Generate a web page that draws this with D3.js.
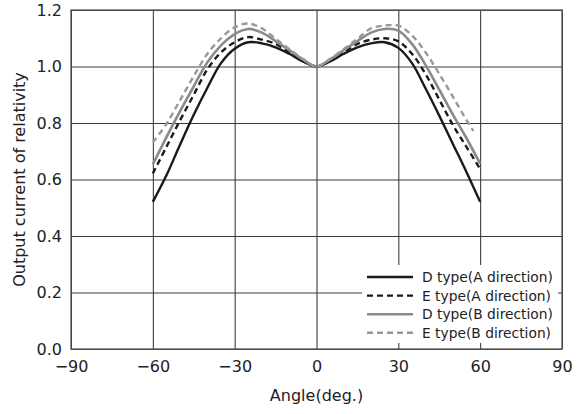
<!DOCTYPE html>
<html>
<head>
<meta charset="utf-8">
<script src="https://cdn.jsdelivr.net/npm/d3@7"></script>
<style>
  body { margin: 0; background: #fff; }
  svg { display: block; font-family: "DejaVu Sans", sans-serif; }
</style>
</head>
<body>
<div id="chart"></div>
<script>
// Data (relative output vs. angle)
const angles = [-60, -55, -50, -45, -40, -35, -30, -25, -20, -15, -10, -5, 0,
                5, 10, 15, 20, 25, 30, 35, 40, 45, 50, 55, 60];
const dTypeA = [0.521, 0.615, 0.724, 0.829, 0.925, 1.012, 1.063, 1.086, 1.082, 1.068, 1.045, 1.018, 1.000,
                1.018, 1.045, 1.068, 1.082, 1.086, 1.066, 1.012, 0.922, 0.826, 0.726, 0.626, 0.521];
const eTypeA = [0.621, 0.716, 0.810, 0.900, 0.990, 1.050, 1.086, 1.104, 1.095, 1.080, 1.050, 1.020, 1.000,
                1.020, 1.050, 1.080, 1.095, 1.100, 1.089, 1.045, 0.973, 0.883, 0.793, 0.715, 0.637];
const dTypeB = [0.653, 0.750, 0.842, 0.930, 1.015, 1.075, 1.115, 1.133, 1.120, 1.090, 1.058, 1.025, 1.000,
                1.025, 1.058, 1.090, 1.120, 1.133, 1.127, 1.080, 1.005, 0.918, 0.830, 0.746, 0.656];
const anglesEB = [-60, -55, -50, -45, -40, -35, -30, -25, -20, -15, -10, -5, 0,
                  5, 10, 15, 20, 25, 30, 35, 40, 45, 50, 55, 57.5];
const eTypeB = [0.731, 0.797, 0.881, 0.966, 1.045, 1.100, 1.139, 1.152, 1.135, 1.098, 1.062, 1.027, 1.000,
                1.027, 1.062, 1.098, 1.135, 1.145, 1.145, 1.110, 1.050, 0.974, 0.893, 0.810, 0.772];

const xTicks = [-90, -60, -30, 0, 30, 60, 90];
const yTicks = [0, 0.2, 0.4, 0.6, 0.8, 1.0, 1.2];

const seriesNames = ['D type(A direction)', 'E type(A direction)', 'D type(B direction)', 'E type(B direction)'];

// ============================================
// Layout
// ============================================
const W = 582, H = 414;
const margin = { top: 10, right: 20, bottom: 65, left: 71 };
const innerW = W - margin.left - margin.right;
const innerH = H - margin.top - margin.bottom;

const series = [
  { name: seriesNames[0], xs: angles, ys: dTypeA, color: '#1a1a1a', dash: null, width: 2.4 },
  { name: seriesNames[1], xs: angles, ys: eTypeA, color: '#1a1a1a', dash: '6,4', width: 2.4 },
  { name: seriesNames[2], xs: angles, ys: dTypeB, color: '#8a8a8a', dash: null, width: 2.6 },
  { name: seriesNames[3], xs: anglesEB, ys: eTypeB, color: '#999999', dash: '6,4', width: 2.4 }
];

const x = d3.scaleLinear().domain([-90, 90]).range([0, innerW]);
const y = d3.scaleLinear().domain([0, 1.2]).range([innerH, 0]);

const svg = d3.select('#chart').append('svg')
  .attr('width', W)
  .attr('height', H);

const g = svg.append('g')
  .attr('transform', `translate(${margin.left},${margin.top})`);

// Grid lines
g.append('g')
  .attr('class', 'grid-x')
  .attr('transform', `translate(0,${innerH})`)
  .call(d3.axisBottom(x).tickValues(xTicks).tickSize(-innerH).tickFormat(''))
  .call(s => s.select('.domain').remove())
  .selectAll('line')
  .attr('stroke', '#2a2a2a')
  .attr('stroke-width', 1);

g.append('g')
  .attr('class', 'grid-y')
  .call(d3.axisLeft(y).tickValues(yTicks).tickSize(-innerW).tickFormat(''))
  .call(s => s.select('.domain').remove())
  .selectAll('line')
  .attr('stroke', '#3a3a3a')
  .attr('stroke-width', 1);

// Curves
const line = d3.line()
  .x(d => x(d[0]))
  .y(d => y(d[1]))
  .curve(d3.curveCatmullRom.alpha(0.5));

series.forEach(s => {
  g.append('path')
    .datum(s.xs.map((a, i) => [a, s.ys[i]]))
    .attr('fill', 'none')
    .attr('stroke', s.color)
    .attr('stroke-width', s.width)
    .attr('stroke-dasharray', s.dash)
    .attr('stroke-linejoin', 'round')
    .attr('d', line);
});

// Frame
g.append('rect')
  .attr('width', innerW)
  .attr('height', innerH)
  .attr('fill', 'none')
  .attr('stroke', '#555')
  .attr('stroke-width', 1.3);

// Axes labels
const xAxis = g.append('g')
  .attr('transform', `translate(0,${innerH})`)
  .call(d3.axisBottom(x).tickValues(xTicks).tickSize(0).tickPadding(12));
xAxis.select('.domain').remove();
xAxis.selectAll('text')
  .attr('fill', '#222')
  .style('font-size', '16px')
  .style('font-family', '"DejaVu Sans", sans-serif');

const yAxis = g.append('g')
  .call(d3.axisLeft(y).tickValues(yTicks).tickSize(0).tickPadding(9).tickFormat(d3.format('.1f')));
yAxis.select('.domain').remove();
yAxis.selectAll('text')
  .attr('fill', '#222')
  .style('font-size', '16px')
  .style('font-family', '"DejaVu Sans", sans-serif');

svg.append('text')
  .attr('x', margin.left + innerW / 2)
  .attr('y', 401)
  .attr('text-anchor', 'middle')
  .attr('fill', '#222')
  .style('font-size', '16px')
  .text('Angle(deg.)');

svg.append('text')
  .attr('transform', `translate(25,${margin.top + innerH / 2}) rotate(-90)`)
  .attr('text-anchor', 'middle')
  .attr('fill', '#222')
  .style('font-size', '16px')
  .text('Output current of relativity');

// Legend
const legend = svg.append('g')
  .attr('transform', 'translate(362,265)');

legend.append('rect')
  .attr('width', 196)
  .attr('height', 78)
  .attr('fill', '#fff');

series.forEach((s, i) => {
  const row = legend.append('g')
    .attr('transform', `translate(0,${12 + i * 18.6})`);
  row.append('line')
    .attr('x1', 5).attr('x2', 51)
    .attr('stroke', s.color)
    .attr('stroke-width', s.width)
    .attr('stroke-dasharray', s.dash);
  row.append('text')
    .attr('x', 60)
    .attr('dy', '0.36em')
    .attr('fill', '#222')
    .style('font-size', '13.8px')
    .text(s.name);
});
</script>
</body>
</html>
